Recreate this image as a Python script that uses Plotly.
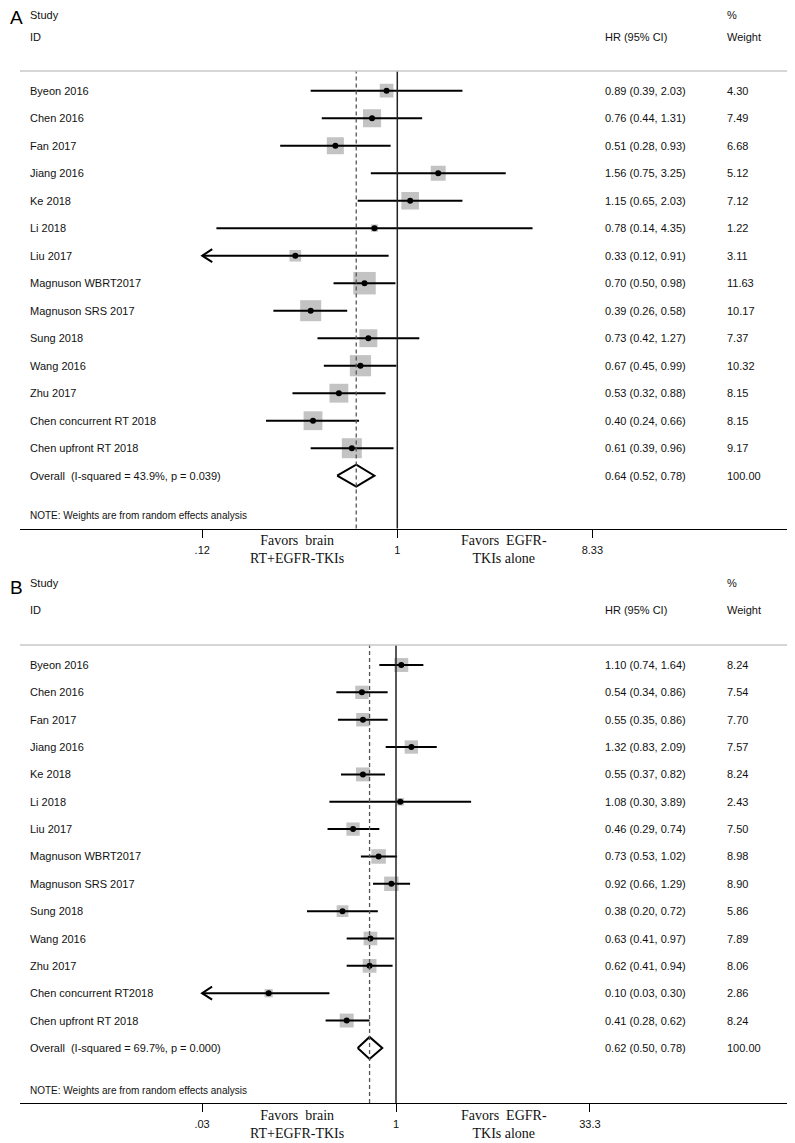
import math
import plotly.graph_objects as go

# ---------------- data ----------------
studies_a = ["Byeon 2016", "Chen 2016", "Fan 2017", "Jiang 2016", "Ke 2018", "Li 2018",
             "Liu 2017", "Magnuson WBRT2017", "Magnuson SRS 2017", "Sung 2018",
             "Wang 2016", "Zhu 2017", "Chen concurrent RT 2018", "Chen upfront RT 2018"]
hr_a = [0.89, 0.76, 0.51, 1.56, 1.15, 0.78, 0.33, 0.70, 0.39, 0.73, 0.67, 0.53, 0.40, 0.61]
lo_a = [0.39, 0.44, 0.28, 0.75, 0.65, 0.14, 0.12, 0.50, 0.26, 0.42, 0.45, 0.32, 0.24, 0.39]
hi_a = [2.03, 1.31, 0.93, 3.25, 2.03, 4.35, 0.91, 0.98, 0.58, 1.27, 0.99, 0.88, 0.66, 0.96]
w_a = [4.30, 7.49, 6.68, 5.12, 7.12, 1.22, 3.11, 11.63, 10.17, 7.37, 10.32, 8.15, 8.15, 9.17]
overall_a = [0.64, 0.52, 0.78]
overall_label_a = "Overall  (I-squared = 43.9%, p = 0.039)"
tickvals_a = [0.12, 1, 8.33]
ticktext_a = [".12", "1", "8.33"]

studies_b = ["Byeon 2016", "Chen 2016", "Fan 2017", "Jiang 2016", "Ke 2018", "Li 2018",
             "Liu 2017", "Magnuson WBRT2017", "Magnuson SRS 2017", "Sung 2018",
             "Wang 2016", "Zhu 2017", "Chen concurrent RT2018", "Chen upfront RT 2018"]
hr_b = [1.10, 0.54, 0.55, 1.32, 0.55, 1.08, 0.46, 0.73, 0.92, 0.38, 0.63, 0.62, 0.10, 0.41]
lo_b = [0.74, 0.34, 0.35, 0.83, 0.37, 0.30, 0.29, 0.53, 0.66, 0.20, 0.41, 0.41, 0.03, 0.28]
hi_b = [1.64, 0.86, 0.86, 2.09, 0.82, 3.89, 0.74, 1.02, 1.29, 0.72, 0.97, 0.94, 0.30, 0.62]
w_b = [8.24, 7.54, 7.70, 7.57, 8.24, 2.43, 7.50, 8.98, 8.90, 5.86, 7.89, 8.06, 2.86, 8.24]
overall_b = [0.62, 0.50, 0.78]
overall_label_b = "Overall  (I-squared = 69.7%, p = 0.000)"
tickvals_b = [0.03, 1, 33.3]
ticktext_b = [".03", "1", "33.3"]

note_text = "NOTE: Weights are from random effects analysis"
left_label = "Favors&nbsp; brain<br>RT+EGFR-TKIs"
right_label = "Favors&nbsp; EGFR-<br>TKIs alone"

# ---------------- layout geometry (pixels of the 795x1143 page) ----------------
PAGE_W, PAGE_H = 795, 1143
OFF = 8  # default page margin around the plot div
W, H = PAGE_W - OFF, PAGE_H - OFF
SANS = "Arial, Liberation Sans, sans-serif"
SERIF = "Times New Roman, Liberation Serif, serif"
TXT = "#111111"


def px(x):
    return (x - OFF) / W


def py(y):
    return 1 - (y - OFF) / H


fig = go.Figure()
annotations = []
shapes = []

panels = [
    dict(tag="A", studies=studies_a, hr=hr_a, lo=lo_a, hi=hi_a, w=w_a, overall=overall_a,
         olabel=overall_label_a, tv=tickvals_a, tt=ticktext_a,
         top=71, first=90.7, step=27.5, axis=528.5, note=515.5,
         one_px=397.3, ppl=92.0, box_k=6.6,
         y_study=15, y_id=37, y_letter=18, y_favor=549, xs="x", ys="y", xa="xaxis", ya="yaxis"),
    dict(tag="B", studies=studies_b, hr=hr_b, lo=lo_b, hi=hi_b, w=w_b, overall=overall_b,
         olabel=overall_label_b, tv=tickvals_b, tt=ticktext_b,
         top=645, first=665, step=27.35, axis=1103, note=1090,
         one_px=396, ppl=55.3, box_k=4.85,
         y_study=583, y_id=610, y_letter=587, y_favor=1124, xs="x2", ys="y2", xa="xaxis2", ya="yaxis2"),
]

for p in panels:
    n = len(p["studies"])
    rows = list(range(n))
    orow = n
    r_top = (p["top"] - p["first"]) / p["step"]
    r_bot = (p["axis"] - p["first"]) / p["step"]
    note_row = (p["note"] - p["first"]) / p["step"]
    dec = p["ppl"] * math.log(10)
    xr = [-(p["one_px"] - 20) / dec, (PAGE_W - p["one_px"]) / dec]
    tmin = min(p["tv"])

    # boxes
    fig.add_trace(go.Scatter(
        x=p["hr"], y=rows, mode="markers", xaxis=p["xs"], yaxis=p["ys"],
        marker=dict(symbol="square", color="#a9a9a9",
                    size=[p["box_k"] * math.sqrt(v) for v in p["w"]], line=dict(width=0)),
        hoverinfo="skip", showlegend=False))

    # CI lines (clipped to axis tick min) and chevrons
    cx, cy, ax_, ay_ = [], [], [], []
    fac = math.exp(10 / p["ppl"])
    dh = 6.5 / p["step"]
    for i in rows:
        lo = max(p["lo"][i], tmin)
        cx += [lo, p["hi"][i], None]
        cy += [i, i, None]
        if p["lo"][i] <= tmin:
            ax_ += [lo * fac, lo, lo * fac, None]
            ay_ += [i - dh, i, i + dh, None]
    fig.add_trace(go.Scatter(x=cx, y=cy, mode="lines", xaxis=p["xs"], yaxis=p["ys"],
                             line=dict(color="black", width=2), hoverinfo="skip", showlegend=False))
    if ax_:
        fig.add_trace(go.Scatter(x=ax_, y=ay_, mode="lines", xaxis=p["xs"], yaxis=p["ys"],
                                 line=dict(color="black", width=2), hoverinfo="skip", showlegend=False))

    # point estimates
    fig.add_trace(go.Scatter(
        x=p["hr"], y=rows, mode="markers", xaxis=p["xs"], yaxis=p["ys"],
        marker=dict(symbol="circle", color="black", size=6),
        hoverinfo="skip", showlegend=False))

    # overall diamond
    est, olo, ohi = p["overall"]
    hd = 11 / p["step"]
    fig.add_trace(go.Scatter(
        x=[olo, est, ohi, est, olo], y=[orow, orow - hd, orow, orow + hd, orow],
        mode="lines", xaxis=p["xs"], yaxis=p["ys"],
        line=dict(color="black", width=2), hoverinfo="skip", showlegend=False))

    # axes
    x_dom = [px(20), 1]
    y_dom = [py(p["axis"]), py(p["top"])]
    fig.update_layout({
        p["xa"]: dict(type="log", range=xr, domain=x_dom, anchor=p["ys"],
                      showgrid=False, zeroline=False, showline=True, linecolor="black", linewidth=1.3,
                      ticks="outside", ticklen=8, tickwidth=1.2, tickcolor="black",
                      ticklabelstandoff=3,
                      tickvals=p["tv"], ticktext=p["tt"],
                      tickfont=dict(family=SANS, size=11, color=TXT)),
        p["ya"]: dict(range=[r_bot, r_top], domain=y_dom, anchor=p["xs"], visible=False,
                      showgrid=False, zeroline=False),
    })

    # reference lines
    xref = p["xs"]
    ydref = p["ys"] + " domain"
    shapes.append(dict(type="line", xref=xref, yref=ydref, x0=1, x1=1, y0=0, y1=1,
                       line=dict(color="#222222", width=1.5), layer="above"))
    shapes.append(dict(type="line", xref=xref, yref=ydref, x0=est, x1=est, y0=0, y1=1,
                       line=dict(color="#555555", width=1.3, dash="4px,3px"), layer="above"))
    shapes.append(dict(type="line", xref="paper", yref=ydref, x0=px(20), x1=1, y0=1, y1=1,
                       line=dict(color="#c8c8c8", width=1.5), layer="above"))

    # row texts
    labels = p["studies"] + [p["olabel"]]
    hrs = p["hr"] + [est]
    los = p["lo"] + [olo]
    his = p["hi"] + [ohi]
    ws = p["w"] + [100.0]
    for i in range(n + 1):
        annotations.append(dict(xref="paper", yref=p["ys"], x=px(28), y=i, text=labels[i],
                                showarrow=False, xanchor="left", yanchor="middle",
                                font=dict(family=SANS, size=11, color=TXT)))
        annotations.append(dict(xref="paper", yref=p["ys"], x=px(603), y=i,
                                text=f"{hrs[i]:.2f} ({los[i]:.2f}, {his[i]:.2f})",
                                showarrow=False, xanchor="left", yanchor="middle",
                                font=dict(family=SANS, size=11, color=TXT)))
        annotations.append(dict(xref="paper", yref=p["ys"], x=px(725), y=i, text=f"{ws[i]:.2f}",
                                showarrow=False, xanchor="left", yanchor="middle",
                                font=dict(family=SANS, size=11, color=TXT)))
    annotations.append(dict(xref="paper", yref=p["ys"], x=px(28), y=note_row, text=note_text,
                            showarrow=False, xanchor="left", yanchor="middle",
                            font=dict(family=SANS, size=10, color=TXT)))

    # headers
    for (tx, ty, t) in [(28, p["y_study"], "Study"), (28, p["y_id"], "ID"),
                        (603, p["y_id"], "HR (95% CI)"), (725, p["y_study"], "%"),
                        (725, p["y_id"], "Weight")]:
        annotations.append(dict(xref="paper", yref="paper", x=px(tx), y=py(ty), text=t,
                                showarrow=False, xanchor="left", yanchor="middle",
                                font=dict(family=SANS, size=11, color=TXT)))
    annotations.append(dict(xref="paper", yref="paper", x=px(OFF), y=py(p["y_letter"]), text=p["tag"],
                            showarrow=False, xanchor="left", yanchor="middle",
                            font=dict(family=SANS, size=19, color="black")))
    # favors labels
    annotations.append(dict(xref="paper", yref="paper", x=px(297), y=py(p["y_favor"]), text=left_label,
                            showarrow=False, xanchor="center", yanchor="middle", align="center",
                            font=dict(family=SERIF, size=14, color=TXT)))
    annotations.append(dict(xref="paper", yref="paper", x=px(504), y=py(p["y_favor"]), text=right_label,
                            showarrow=False, xanchor="center", yanchor="middle", align="center",
                            font=dict(family=SERIF, size=14, color=TXT)))

fig.update_layout(width=W, height=H, margin=dict(l=0, r=0, t=0, b=0),
                  paper_bgcolor="white", plot_bgcolor="white",
                  annotations=annotations, shapes=shapes, showlegend=False)

fig.write_html("out.html")
